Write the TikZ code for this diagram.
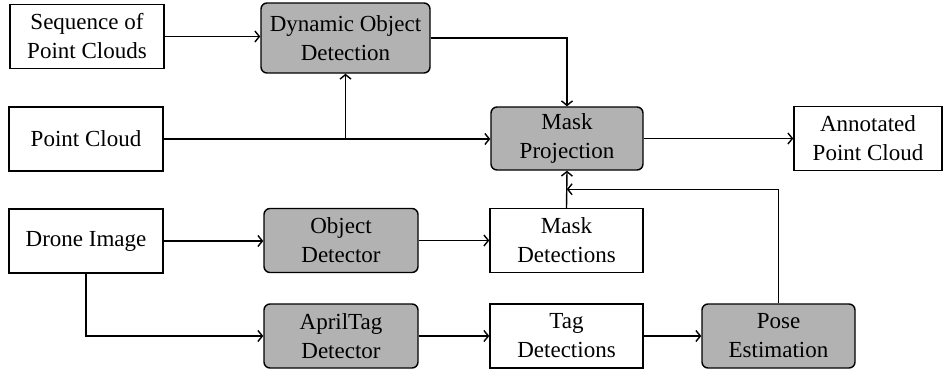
\documentclass[tikz,border=0pt]{standalone}
\usepackage{fontspec}
\setmainfont{LiberationSerif}[Extension=.ttf, UprightFont=*-Regular, BoldFont=*-Bold]
\usetikzlibrary{arrows.meta,calc}
\definecolor{procgray}{RGB}{178,178,178}
\begin{document}
\begin{tikzpicture}[x=1pt,y=-1pt,
  every node/.style={font=\fontsize{23}{29}\selectfont, align=center, inner sep=0pt},
  databox/.style={draw, line width=1.4pt, fill=white, minimum width=154pt, minimum height=64pt},
  procbox/.style={draw, line width=1.4pt, fill=procgray, rounded corners=6pt, minimum width=154pt, minimum height=64pt},
  flow/.style={line width=1.4pt, -{Straight Barb[length=4.5pt,width=11pt,line width=1.4pt]}}]
  \useasboundingbox (0,0) rectangle (943,370);

  % data items
  \node[databox] (seq) at (87,36.5) {Sequence of\\Point Clouds};
  \node[databox] (pc) at (86,139) {Point Cloud};
  \node[databox, minimum width=148pt] (ann) at (868,138.5) {Annotated\\Point Cloud};
  \node[databox] (drone) at (86,241) {Drone Image};
  \node[databox, minimum width=153pt] (maskdet) at (566.5,240.5) {Mask\\Detections};
  \node[databox, minimum width=153pt] (tagdet) at (566.5,336) {Tag\\Detections};

  % processing steps
  \node[procbox, minimum width=169pt, minimum height=70pt] (dyn) at (345.5,38) {Dynamic Object\\Detection};
  \node[procbox, minimum width=152pt, minimum height=63pt] (mask) at (567,138.5) {Mask\\Projection};
  \node[procbox] (objdet) at (341,240.5) {Object\\Detector};
  \node[procbox] (april) at (341,336) {AprilTag\\Detector};
  \node[procbox, minimum width=153pt] (pose) at (778.5,336) {Pose\\Estimation};

  % merge point between mask detections and mask projection
  \coordinate (j) at ($(mask.south)!0.5!(maskdet.north)$);

  % connectors
  \draw[flow] (seq.east) -- (seq.east -| dyn.west);
  \draw[flow] (pc.east) -- (pc.east -| mask.west);
  \draw[flow] (pc.east -| dyn.south) -- (dyn.south);
  \draw[flow] (dyn.east) -| (mask.north);
  \draw[flow] (mask.east) -- (ann.west);
  \draw[flow] (drone.east) -- (drone.east -| objdet.west);
  \draw[flow] (objdet.east) -- (objdet.east -| maskdet.west);
  \draw[flow] (maskdet.north) -- (mask.south);
  \draw[flow] (drone.south) |- (april.west);
  \draw[flow] (april.east) -- (tagdet.west);
  \draw[flow] (tagdet.east) -- (pose.west);
  \draw[flow] (pose.north) |- (j);
\end{tikzpicture}
\end{document}
